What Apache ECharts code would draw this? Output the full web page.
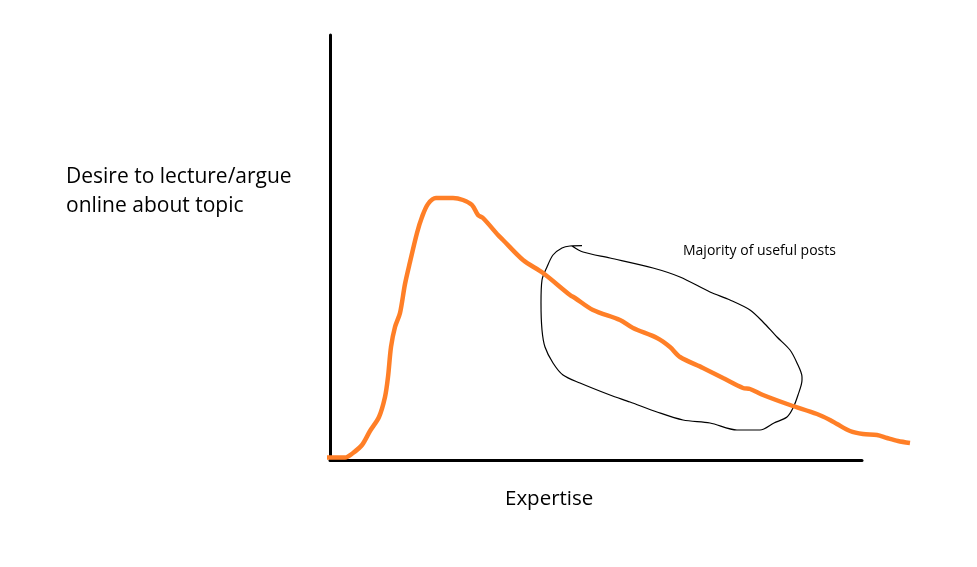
<!DOCTYPE html>
<html>
<head>
<meta charset="utf-8">
<style>html,body{margin:0;padding:0;background:#fff}#c{width:977px;height:567px}</style>
<script src="https://cdn.jsdelivr.net/npm/echarts@6/dist/echarts.min.js"></script>
</head>
<body>
<div id="c"></div>
<script>
// Hand-drawn curve: expertise (x) vs desire to argue (y), arbitrary units
const curveX = [-3,15,23,32,40,49,55,58,61,65,70,75,80,87,92,98,106,123,133,142,148,153,168,173,193,213,240,245,263,290,303,327,340,350,373,393,413,420,433,460,487,500,507,520,533,547,557,568,580];
const curveY = [2.5,2.5,7,15,29,43,63,83,113,133,147,176,198,227,243,256,262,262,260,255,245,242,225,220,200,187,165,162,150,140,132,122,113,103,92,82,72,71,65,55,46,40,36,29,26,25,22,19,17];
// Hand-drawn loop around "majority of useful posts"
const loopX = [252,240,232,223,217,212,211,212,215,223,233,250,280,300,327,353,380,407,430,444,457,463,468,472,472,467,460,447,433,420,400,380,350,323,280,253,242];
const loopY = [214.3,214,212,205,193,180,157,130,113,97,85,77,65,58,48,40,37,30,30,37,43,52,65,80,83,97,110,123,138,150,160,168,183,192,202,208,214];
// Axis extents (drawn axes) and the wider drawing extent for the hand-drawn marks
const axisX = [0, 532];
const axisY = [0, 425];
const drawX = [-3, 580];
const xName = "Expertise";
const yLines = ["Desire to lecture/argue", "online about topic"];
const note = "Majority of useful posts";

const chart = echarts.init(document.getElementById('c'), null, {renderer: 'canvas'});
const font = "'Open Sans', 'Noto Sans', sans-serif";
const hidden = {axisLine: {show: false}, axisTick: {show: false}, axisLabel: {show: false}, splitLine: {show: false}};
const shown = {axisLine: {show: true, lineStyle: {color: '#000', width: 3}}, axisTick: {show: false}, axisLabel: {show: false}, splitLine: {show: false}};
chart.setOption({
  animation: false,
  backgroundColor: '#fff',
  grid: [
    {left: 330, top: 35, right: 115, bottom: 107},
    {left: 327, top: 35, right: 67, bottom: 107}
  ],
  xAxis: [
    Object.assign({type: 'value', gridIndex: 0, min: axisX[0], max: axisX[1]}, shown),
    Object.assign({type: 'value', gridIndex: 1, min: drawX[0], max: drawX[1]}, hidden)
  ],
  yAxis: [
    Object.assign({type: 'value', gridIndex: 0, min: axisY[0], max: axisY[1]}, shown),
    Object.assign({type: 'value', gridIndex: 1, min: axisY[0], max: axisY[1]}, hidden)
  ],
  graphic: [
    {type: 'text', left: 66, top: 163, style: {text: yLines.join('\n'), fill: '#000', font: '21px ' + font, lineHeight: 29}},
    {type: 'text', left: 505, top: 489, style: {text: xName, fill: '#000', font: '20.5px ' + font}},
    {type: 'text', left: 683, top: 244, style: {text: note, fill: '#000', font: '14px ' + font}}
  ],
  series: [
    {type: 'line', xAxisIndex: 1, yAxisIndex: 1, data: curveX.map((x, i) => [x, curveY[i]]), showSymbol: false, clip: false, smooth: 0.3,
     lineStyle: {color: '#ff7f27', width: 4.5}, z: 3},
    {type: 'line', xAxisIndex: 1, yAxisIndex: 1, data: loopX.map((x, i) => [x, loopY[i]]), showSymbol: false, clip: false, smooth: 0.3,
     lineStyle: {color: '#000', width: 1.2}, z: 2}
  ]
});
</script>
</body>
</html>
